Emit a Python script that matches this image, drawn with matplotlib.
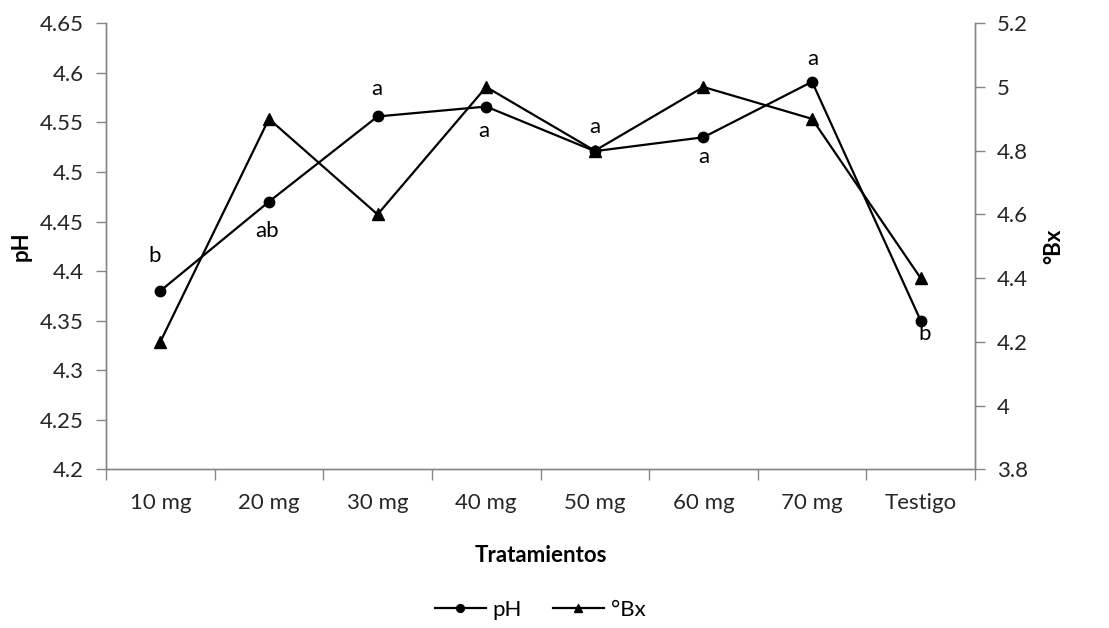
import numpy as np
import matplotlib
matplotlib.use("Agg")
import matplotlib.pyplot as plt

# data
categories = ["10 mg", "20 mg", "30 mg", "40 mg", "50 mg", "60 mg", "70 mg", "Testigo"]
ph = [4.38, 4.47, 4.556, 4.566, 4.521, 4.535, 4.591, 4.35]
brix = [4.2, 4.9, 4.6, 5.0, 4.8, 5.0, 4.9, 4.4]
ph_letters = ["b", "ab", "a", "a", "a", "a", "a", "b"]

# label offsets from each pH point (pixels)
letter_offsets = [(-6, 35), (-2, -29), (-1, 27), (-2, -24), (0, 24), (0, -20), (1, 23), (4, -13)]

plt.rcParams["font.family"] = ["Lato", "DejaVu Sans"]
gray = "#868686"
text_col = "#262626"
fs = 16

fig, ax = plt.subplots(figsize=(11.09, 6.28), dpi=100)
fig.subplots_adjust(left=106 / 1109, right=975 / 1109, top=1 - 23.3 / 628, bottom=1 - 469.3 / 628)
ax2 = ax.twinx()

x = np.arange(len(categories))
l1, = ax.plot(x, ph, color="black", lw=1.6, marker="o", ms=7.5, label="pH")
l2, = ax2.plot(x, brix, color="black", lw=1.6, marker="^", ms=8, label="°Bx")

for xi, yi, lab, off in zip(x, ph, ph_letters, letter_offsets):
    ax.annotate(lab, (xi, yi), xytext=off, textcoords="offset pixels",
                ha="center", va="center", fontsize=fs, color="black")

ax.set_xlim(-0.5, len(categories) - 0.5)
ax.set_ylim(4.2, 4.65)
ax.set_yticks(np.arange(4.2, 4.651, 0.05))
ax.set_yticklabels([f"{v:g}" for v in np.round(np.arange(4.2, 4.651, 0.05), 2)])
ax2.set_ylim(3.8, 5.2)
ax2.set_yticks(np.arange(3.8, 5.21, 0.2))
ax2.set_yticklabels([f"{v:g}" for v in np.round(np.arange(3.8, 5.21, 0.2), 1)])

ax.set_xticks(x)
ax.set_xticklabels(categories)
ax.set_xticks(np.arange(-0.5, len(categories), 1), minor=True)
ax.tick_params(axis="x", which="major", length=0, pad=17, labelsize=fs, labelcolor=text_col)
ax.tick_params(axis="x", which="minor", length=8, color=gray, width=1)
ax.tick_params(axis="y", length=7, color=gray, width=1, pad=9, labelsize=fs, labelcolor=text_col)
ax2.tick_params(axis="y", length=7, color=gray, width=1, pad=9, labelsize=fs, labelcolor=text_col)

for a in (ax, ax2):
    a.spines["top"].set_visible(False)
    for s in ("left", "right", "bottom"):
        a.spines[s].set_color(gray)
        a.spines[s].set_linewidth(1)

ax.set_ylabel("pH", fontsize=fs, fontweight="bold")
ax.yaxis.set_label_coords(-0.086, 0.5)
ax2.set_ylabel("°Bx", fontsize=fs, fontweight="bold", rotation=90)
ax2.yaxis.set_label_coords(1.078, 0.5)
ax.set_xlabel("Tratamientos", fontsize=fs, fontweight="bold")
ax.xaxis.set_label_coords(0.5, -0.17)

fig.legend(handles=[l1, l2], loc="center", bbox_to_anchor=(540 / 1109, 1 - 610 / 628),
           ncol=2, frameon=False, fontsize=fs, handlelength=2.3, columnspacing=1.4,
           handletextpad=0.3, markerscale=0.75)

fig.savefig("out.png", dpi=100)
